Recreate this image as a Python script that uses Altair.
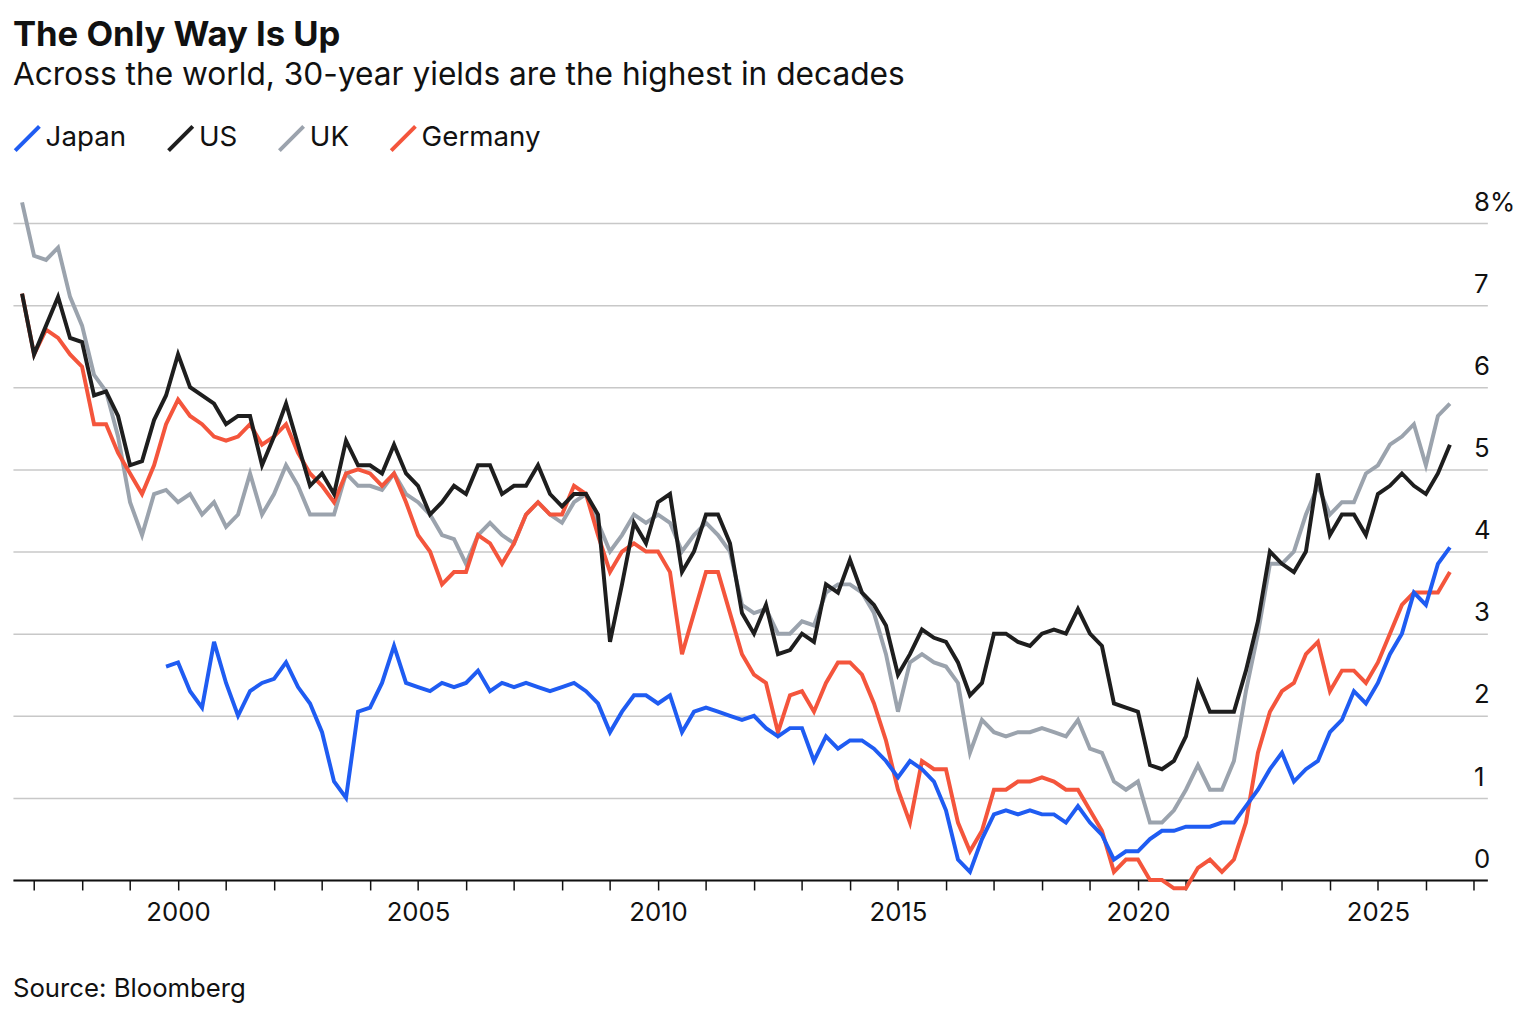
import altair as alt
import pandas as pd

# quarterly readings, x = decimal year
US_START = 1996.75
US = [7.14,
      6.4, 6.75, 7.1, 6.6,
      6.55, 5.9, 5.95, 5.65,
      5.05, 5.1, 5.6, 5.9,
      6.4, 6.0, 5.9, 5.8,
      5.55, 5.65, 5.65, 5.05,
      5.4, 5.8, 5.3, 4.8,
      4.95, 4.7, 5.35, 5.05,
      5.05, 4.95, 5.3, 4.95,
      4.8, 4.45, 4.6, 4.8,
      4.7, 5.05, 5.05, 4.7,
      4.8, 4.8, 5.05, 4.7,
      4.55, 4.7, 4.7, 4.45,
      2.9, 3.6, 4.35, 4.1,
      4.6, 4.7, 3.75, 4.0,
      4.45, 4.45, 4.1, 3.25,
      3.0, 3.35, 2.75, 2.8,
      3.0, 2.9, 3.6, 3.5,
      3.9, 3.5, 3.35, 3.1,
      2.5, 2.75, 3.05, 2.95,
      2.9, 2.65, 2.25, 2.4,
      3.0, 3.0, 2.9, 2.85,
      3.0, 3.05, 3.0, 3.3,
      3.0, 2.85, 2.15, 2.1,
      2.05, 1.4, 1.35, 1.45,
      1.75, 2.4, 2.05, 2.05,
      2.05, 2.55, 3.15, 4.0,
      3.85, 3.75, 4.0, 4.95,
      4.2, 4.45, 4.45, 4.2,
      4.7, 4.8, 4.95, 4.8,
      4.7, 4.95, 5.3]

UK_START = 1996.75
UK = [8.25,
      7.6, 7.55, 7.7, 7.1,
      6.75, 6.15, 5.95, 5.4,
      4.6, 4.2, 4.7, 4.75,
      4.6, 4.7, 4.45, 4.6,
      4.3, 4.45, 4.95, 4.45,
      4.7, 5.05, 4.8, 4.45,
      4.45, 4.45, 4.95, 4.8,
      4.8, 4.75, 4.95, 4.7,
      4.6, 4.45, 4.2, 4.15,
      3.85, 4.2, 4.35, 4.2,
      4.1, 4.45, 4.6, 4.45,
      4.35, 4.6, 4.7, 4.35,
      4.0, 4.2, 4.45, 4.35,
      4.45, 4.35, 4.0, 4.2,
      4.35, 4.2, 4.0, 3.35,
      3.25, 3.3, 3.0, 3.0,
      3.15, 3.1, 3.5, 3.6,
      3.6, 3.5, 3.25, 2.75,
      2.05, 2.65, 2.75, 2.65,
      2.6, 2.4, 1.55, 1.95,
      1.8, 1.75, 1.8, 1.8,
      1.85, 1.8, 1.75, 1.95,
      1.6, 1.55, 1.2, 1.1,
      1.2, 0.7, 0.7, 0.85,
      1.1, 1.4, 1.1, 1.1,
      1.45, 2.3, 3.0, 3.85,
      3.85, 4.0, 4.45, 4.8,
      4.45, 4.6, 4.6, 4.95,
      5.05, 5.3, 5.4, 5.55,
      5.05, 5.65, 5.8]

DE_START = 1996.75
DE = [7.14,
      6.4, 6.7, 6.6, 6.4,
      6.25, 5.55, 5.55, 5.2,
      4.95, 4.7, 5.05, 5.55,
      5.85, 5.65, 5.55, 5.4,
      5.35, 5.4, 5.55, 5.3,
      5.4, 5.55, 5.2, 4.95,
      4.8, 4.6, 4.95, 5.0,
      4.95, 4.8, 4.95, 4.6,
      4.2, 4.0, 3.6, 3.75,
      3.75, 4.2, 4.1, 3.85,
      4.1, 4.45, 4.6, 4.45,
      4.45, 4.8, 4.7, 4.2,
      3.75, 4.0, 4.1, 4.0,
      4.0, 3.75, 2.75, 3.25,
      3.75, 3.75, 3.25, 2.75,
      2.5, 2.4, 1.8, 2.25,
      2.3, 2.05, 2.4, 2.65,
      2.65, 2.5, 2.15, 1.7,
      1.1, 0.7, 1.45, 1.35,
      1.35, 0.7, 0.35, 0.6,
      1.1, 1.1, 1.2, 1.2,
      1.25, 1.2, 1.1, 1.1,
      0.85, 0.6, 0.1, 0.25,
      0.25, 0.0, 0.0, -0.1,
      -0.1, 0.15, 0.25, 0.1,
      0.25, 0.7, 1.55, 2.05,
      2.3, 2.4, 2.75, 2.9,
      2.3, 2.55, 2.55, 2.4,
      2.65, 3.0, 3.35, 3.5,
      3.5, 3.5, 3.75]

JP_START = 1999.75
JP = [2.6,
      2.65, 2.3, 2.1, 2.9,
      2.4, 2.0, 2.3, 2.4,
      2.45, 2.65, 2.35, 2.15,
      1.8, 1.2, 1.0, 2.05,
      2.1, 2.4, 2.85, 2.4,
      2.35, 2.3, 2.4, 2.35,
      2.4, 2.55, 2.3, 2.4,
      2.35, 2.4, 2.35, 2.3,
      2.35, 2.4, 2.3, 2.15,
      1.8, 2.05, 2.25, 2.25,
      2.15, 2.25, 1.8, 2.05,
      2.1, 2.05, 2.0, 1.95,
      2.0, 1.85, 1.75, 1.85,
      1.85, 1.45, 1.75, 1.6,
      1.7, 1.7, 1.6, 1.45,
      1.25, 1.45, 1.35, 1.2,
      0.85, 0.25, 0.1, 0.5,
      0.8, 0.85, 0.8, 0.85,
      0.8, 0.8, 0.7, 0.9,
      0.7, 0.55, 0.25, 0.35,
      0.35, 0.5, 0.6, 0.6,
      0.65, 0.65, 0.65, 0.7,
      0.7, 0.9, 1.1, 1.35,
      1.55, 1.2, 1.35, 1.45,
      1.8, 1.95, 2.3, 2.15,
      2.4, 2.75, 3.0, 3.5,
      3.35, 3.85, 4.05]

SERIES = ["Japan", "US", "UK", "Germany"]
COLORS = ["#1f5cf2", "#1e1e1e", "#9ba3ad", "#f4553c"]
Y_TICKS = [0, 1, 2, 3, 4, 5, 6, 7, 8]
X_TICKS = list(range(1997, 2028))


def frame(name, start, vals):
    return pd.DataFrame({"series": name,
                         "year": [start + 0.25 * i for i in range(len(vals))],
                         "value": vals})


# draw order: grey, red, black, blue on top
df = pd.concat([frame("UK", UK_START, UK), frame("Germany", DE_START, DE),
                frame("US", US_START, US), frame("Japan", JP_START, JP)])

W, H = 1490, 689
FONT = "Inter"

lines = (
    alt.Chart(df)
    .mark_line(strokeWidth=4, clip=False)
    .encode(
        x=alt.X("year:Q", scale=alt.Scale(domain=[1996.56, 2027.28], nice=False, zero=False),
                axis=alt.Axis(values=X_TICKS, title=None, grid=False,
                              labelExpr="datum.value % 5 == 0 ? datum.value : ''",
                              labelFontSize=26, labelColor="#111", labelPadding=10,
                              tickSize=10, tickColor="#111", tickWidth=1.5,
                              domainColor="#111", domainWidth=2, labelFlush=False)),
        y=alt.Y("value:Q", scale=alt.Scale(domain=[0, 8.3], nice=False),
                axis=alt.Axis(values=Y_TICKS, orient="right", title=None,
                              labelExpr="datum.value == 8 ? '8%' : datum.value",
                              labelFontSize=26, labelColor="#111", labelAlign="left",
                              labelPadding=-14, labelBaseline="bottom", labelOffset=-8,
                              domain=False, ticks=False, gridColor="#c8c8c8",
                              gridWidth=1.5)),
        color=alt.Color("series:N", scale=alt.Scale(domain=SERIES, range=COLORS),
                        legend=alt.Legend(title=None, orient="top", direction="horizontal",
                                          symbolType="M-1,1L1,-1", symbolStrokeWidth=4,
                                          symbolSize=600, labelFontSize=28,
                                          labelColor="#111", columnPadding=34,
                                          offset=36, symbolOffset=0)),
        detail="series:N",
    )
)

source = (
    alt.Chart(pd.DataFrame({"t": ["Source: Bloomberg"]}))
    .mark_text(align="left", baseline="middle", fontSize=26, font=FONT, color="#111")
    .encode(x=alt.value(0), y=alt.value(H + 110), text="t:N")
)

chart = (
    (lines + source)
    .properties(
        width=W, height=H,
        title=alt.Title("The Only Way Is Up",
                        subtitle="Across the world, 30-year yields are the highest in decades",
                        anchor="start", fontSize=35, fontWeight="bold", color="#111",
                        subtitleFontSize=32, subtitleColor="#111", subtitlePadding=8,
                        offset=25, dy=-8),
    )
    .configure(font=FONT)
    .configure_view(stroke=None)
    .configure_legend(padding=0)
)

chart.save("out.html", embed_options={"renderer": "svg", "actions": False})
